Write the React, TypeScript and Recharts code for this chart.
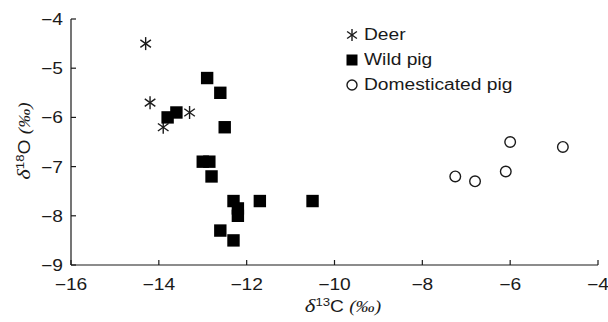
import React from 'react';
import { ScatterChart, Scatter, XAxis, YAxis } from 'recharts';

const deer = [
  { x: -14.3, y: -4.5 },
  { x: -14.2, y: -5.7 },
  { x: -13.9, y: -6.2 },
  { x: -13.3, y: -5.9 },
];

const wildPig = [
  { x: -12.9, y: -5.2 },
  { x: -12.6, y: -5.5 },
  { x: -12.5, y: -6.2 },
  { x: -13.8, y: -6.0 },
  { x: -13.6, y: -5.9 },
  { x: -13.0, y: -6.9 },
  { x: -12.85, y: -6.9 },
  { x: -12.8, y: -7.2 },
  { x: -12.3, y: -7.7 },
  { x: -12.2, y: -7.85 },
  { x: -12.2, y: -8.0 },
  { x: -12.6, y: -8.3 },
  { x: -12.3, y: -8.5 },
  { x: -11.7, y: -7.7 },
  { x: -10.5, y: -7.7 },
];

const domesticPig = [
  { x: -7.25, y: -7.2 },
  { x: -6.8, y: -7.3 },
  { x: -6.1, y: -7.1 },
  { x: -6.0, y: -6.5 },
  { x: -4.8, y: -6.6 },
];

const xTicks = [-16, -14, -12, -10, -8, -6, -4];
const yTicks = [-9, -8, -7, -6, -5, -4];

const seriesNames = ['Deer', 'Wild pig', 'Domesticated pig'];

const INK = '#1a1a1a';
const FONT = '"Liberation Sans", Arial, sans-serif';
const SERIF = '"Liberation Serif", serif';
const SX = 1.2;

const fmt = (v: number) => (v < 0 ? '\u2212' + Math.abs(v) : String(v));

const Star = ({ cx, cy, s = 6.5 }: any) => {
  const dx = s * Math.sin(Math.PI / 3.3);
  const dy = s * Math.cos(Math.PI / 3.3);
  return (
    <g stroke={INK} strokeWidth={1.4}>
      <line x1={cx} y1={cy - s} x2={cx} y2={cy + s} />
      <line x1={cx - dx} y1={cy - dy} x2={cx + dx} y2={cy + dy} />
      <line x1={cx - dx} y1={cy + dy} x2={cx + dx} y2={cy - dy} />
    </g>
  );
};

const Square = ({ cx, cy, s = 6.2 }: any) => (
  <rect x={cx - s} y={cy - s} width={2 * s} height={2 * s} fill="#000" />
);

const Ring = ({ cx, cy, r = 5.3 }: any) => (
  <circle cx={cx} cy={cy} r={r} fill="#fff" stroke={INK} strokeWidth={1.4} />
);

const XTick = ({ x, y, payload }: any) => (
  <g>
    <line x1={x} y1={y} x2={x} y2={y - 5} stroke={INK} strokeWidth={1.2} />
    <g transform={`translate(${x},${y + 25}) scale(${SX},1)`}>
      <text x={0} y={0} textAnchor="middle" fontFamily={FONT} fontSize={16} fill={INK}>
        {fmt(payload.value)}
      </text>
    </g>
  </g>
);

const YTick = ({ x, y, payload }: any) => (
  <g>
    <line x1={x} y1={y} x2={x + 5} y2={y} stroke={INK} strokeWidth={1.2} />
    <g transform={`translate(${x - 8},${y + 6}) scale(${SX},1)`}>
      <text x={0} y={0} textAnchor="end" fontFamily={FONT} fontSize={16} fill={INK}>
        {fmt(payload.value)}
      </text>
    </g>
  </g>
);

const LegendBox = () => {
  const markers = [
    <Star cx={8} cy={8} s={6} />,
    <Square cx={8} cy={8} s={5.5} />,
    <Ring cx={8} cy={8} r={5} />,
  ];
  return (
    <div
      style={{
        position: 'absolute',
        left: 344,
        top: 22,
        fontFamily: FONT,
        fontSize: 16,
        color: INK,
      }}
    >
      {seriesNames.map((n, i) => (
        <div key={n} style={{ display: 'flex', alignItems: 'center', height: 25 }}>
          <svg width={16} height={16} style={{ marginRight: 4 }}>
            {markers[i]}
          </svg>
          <span style={{ display: 'inline-block', transform: `scaleX(${SX})`, transformOrigin: 'left center', whiteSpace: 'nowrap' }}>
            {n}
          </span>
        </div>
      ))}
    </div>
  );
};

export default function App() {
  return (
    <div style={{ position: 'absolute', left: 0, top: 0, width: 608, height: 322, background: '#fff' }}>
      <ScatterChart width={608} height={322} margin={{ top: 19, right: 10, left: 0, bottom: 0 }}>
        <XAxis
          type="number"
          dataKey="x"
          domain={[-16, -4]}
          ticks={xTicks}
          height={57}
          tickSize={0}
          tickMargin={0}
          tickLine={false}
          axisLine={{ stroke: INK, strokeWidth: 1.2 }}
          tick={<XTick />}
          allowDataOverflow
          label={{
            content: () => (
              <g transform={`translate(343,312) scale(${SX},1)`}>
                <text x={0} y={0} textAnchor="middle" fontFamily={FONT} fontSize={16} fill={INK}>
                  <tspan fontFamily={SERIF} fontStyle="italic" fontSize={19}>δ</tspan>
                  <tspan fontSize={11} dy={-6}>13</tspan>
                  <tspan dy={6}>C </tspan>
                  <tspan fontFamily={SERIF} fontStyle="italic">(‰)</tspan>
                </text>
              </g>
            ),
          }}
        />
        <YAxis
          type="number"
          dataKey="y"
          domain={[-9, -4]}
          ticks={yTicks}
          width={71}
          tickSize={0}
          tickMargin={0}
          tickLine={false}
          axisLine={{ stroke: INK, strokeWidth: 1.2 }}
          tick={<YTick />}
          allowDataOverflow
          label={{
            content: () => (
              <g transform={`translate(30,141) rotate(-90) scale(${SX},1)`}>
                <text x={0} y={0} textAnchor="middle" fontFamily={FONT} fontSize={16} fill={INK}>
                  <tspan fontFamily={SERIF} fontStyle="italic" fontSize={19}>δ</tspan>
                  <tspan fontSize={11} dy={-6}>18</tspan>
                  <tspan dy={6}>O </tspan>
                  <tspan fontFamily={SERIF} fontStyle="italic">(‰)</tspan>
                </text>
              </g>
            ),
          }}
        />
        <Scatter name={seriesNames[0]} data={deer} shape={<Star />} isAnimationActive={false} />
        <Scatter name={seriesNames[1]} data={wildPig} shape={<Square />} isAnimationActive={false} />
        <Scatter name={seriesNames[2]} data={domesticPig} shape={<Ring />} isAnimationActive={false} />
      </ScatterChart>
      <LegendBox />
    </div>
  );
}
